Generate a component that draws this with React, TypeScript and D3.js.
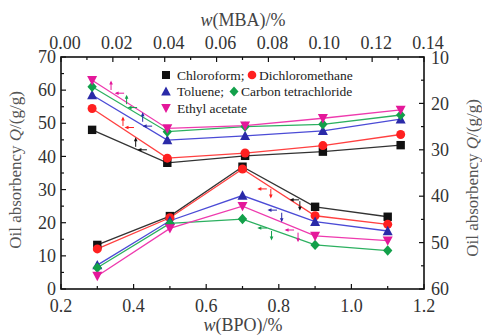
import React from "react";
import * as d3 from "d3";

// ---- data ----
const bpoX = [0.3, 0.5, 0.7, 0.9, 1.1];
const mbaX = [0.012, 0.041, 0.071, 0.101, 0.131];

const seriesNames = ["Chloroform", "Dichloromethane", "Toluene", "Carbon tetrachloride", "Ethyl acetate"];
const seriesColors = ["#111111", "#ff2020", "#2a2aa8", "#12a04a", "#e4189a"];
const lineColors = ["#333333", "#ff4040", "#4b4bd6", "#2cb060", "#ee3aae"];
const seriesShapes = ["square", "circle", "triangle", "diamond", "triangleDown"];

// lower group: oil absorbency vs w(BPO) (left axis)
const bpoChloroform = [13.3, 22.0, 36.9, 24.8, 21.8];
const bpoDichloromethane = [12.1, 21.5, 36.2, 22.1, 19.5];
const bpoToluene = [7.2, 20.6, 28.2, 20.3, 17.5];
const bpoCarbonTet = [6.4, 19.8, 21.1, 13.3, 11.6];
const bpoEthylAcetate = [3.9, 18.3, 25.0, 16.0, 14.6];

// upper group: oil absorbency vs w(MBA) (right axis, reversed)
const mbaChloroform = [25.7, 32.8, 31.3, 30.4, 29.0];
const mbaDichloromethane = [21.1, 31.8, 30.7, 29.1, 26.7];
const mbaToluene = [18.2, 27.9, 27.0, 25.9, 23.4];
const mbaCarbonTet = [16.4, 26.1, 25.0, 24.5, 22.5];
const mbaEthylAcetate = [15.0, 25.4, 24.8, 23.2, 21.4];

// arrow annotations (data coordinates)
const mbaArrowUp = [[0.0288, 28.5], [0.0239, 24.0], [0.0315, 23.1], [0.0253, 19.3], [0.0193, 16.25]];
const mbaArrowSide = [[0.0316, 30.0], [0.0266, 25.2], [0.0336, 24.9], [0.0278, 20.9], [0.0228, 17.8]];
const bpoArrowDown = [[0.858, 25.3], [0.778, 29.0], [0.808, 21.8], [0.78, 16.3], [0.853, 15.8]];
const bpoArrowSide = [[0.845, 26.9], [0.756, 30.2], [0.784, 23.8], [0.756, 18.4], [0.831, 17.8]];

const bpoTicks = [0.2, 0.4, 0.6, 0.8, 1.0, 1.2];
const mbaTicks = [0, 0.02, 0.04, 0.06, 0.08, 0.1, 0.12, 0.14];
const leftTicks = [0, 10, 20, 30, 40, 50, 60, 70];
const rightTicks = [10, 20, 30, 40, 50, 60];

const bpoSeries = [bpoChloroform, bpoDichloromethane, bpoToluene, bpoCarbonTet, bpoEthylAcetate];
const mbaSeries = [mbaChloroform, mbaDichloromethane, mbaToluene, mbaCarbonTet, mbaEthylAcetate];

const W = 482, H = 336;
const L = 61, R = 424, T = 57, B = 289;
const FONT = "Liberation Serif, Times New Roman, DejaVu Serif, serif";

const xBPO = d3.scaleLinear().domain([0.2, 1.2]).range([L, R]);
const xMBA = d3.scaleLinear().domain([0, 0.14]).range([L, R]);
const yLeft = d3.scaleLinear().domain([0, 70]).range([B, T]);
const yRight = d3.scaleLinear().domain([10, 60]).range([T, B]);

function Marker({ shape, x, y, color, s = 4.2 }: any) {
  if (shape === "square")
    return <rect x={x - s} y={y - s} width={2 * s} height={2 * s} fill={color} />;
  if (shape === "circle") return <circle cx={x} cy={y} r={s + 0.3} fill={color} />;
  if (shape === "triangle")
    return <path d={`M${x},${y - s - 1}L${x + s + 0.8},${y + s}L${x - s - 0.8},${y + s}Z`} fill={color} />;
  if (shape === "triangleDown")
    return <path d={`M${x},${y + s + 1}L${x + s + 0.8},${y - s}L${x - s - 0.8},${y - s}Z`} fill={color} />;
  return <path d={`M${x},${y - s - 1}L${x + s + 0.5},${y}L${x},${y + s + 1}L${x - s - 0.5},${y}Z`} fill={color} />;
}

function VArrow({ x, y, up, color }: any) {
  const dir = up ? -1 : 1;
  const tip = y + dir * 4;
  return (
    <g>
      <line x1={x} y1={y - dir * 4} x2={x} y2={tip} stroke={color} strokeWidth={1} />
      <path d={`M${x},${tip + dir * 1.5}L${x - 1.8},${tip - dir * 2.5}L${x + 1.8},${tip - dir * 2.5}Z`} fill={color} />
    </g>
  );
}
function HArrow({ x, y, color }: any) {
  const tip = x - 4;
  return (
    <g>
      <line x1={x + 4} y1={y} x2={tip} y2={y} stroke={color} strokeWidth={1} />
      <path d={`M${tip - 1.5},${y}L${tip + 2.5},${y - 1.8}L${tip + 2.5},${y + 1.8}Z`} fill={color} />
    </g>
  );
}

export default function App() {
  const lineBPO = d3.line<number>().x((_, i) => xBPO(bpoX[i])).y((d) => yLeft(d));
  const lineMBA = d3.line<number>().x((_, i) => xMBA(mbaX[i])).y((d) => yRight(d));

  const minor = (a: number, b: number, step: number) => d3.range(a, b + step / 2, step);

  const legendRows = [
    [{ i: 0, t: "Chloroform;" }, { i: 1, t: "Dichloromethane" }],
    [{ i: 2, t: "Toluene;" }, { i: 3, t: "Carbon tetrachloride" }],
    [{ i: 4, t: "Ethyl acetate" }],
  ];
  const legendX = 166, legendY0 = 75, legendDy = 16.5;
  const secondX = [252, 234];

  return (
    <svg width={W} height={H} style={{ position: "absolute", left: 0, top: 0, background: "#fff", fontFamily: FONT }}>
      <rect width={W} height={H} fill="#fff" />
      {/* ticks */}
      <g stroke="#111" strokeWidth={1.2}>
        {minor(0.2, 1.2, 0.1).map((v, i) => (
          <line key={"b" + i} x1={xBPO(v)} x2={xBPO(v)} y1={B} y2={B - (i % 2 === 0 ? 5 : 3)} />
        ))}
        {minor(0, 0.14, 0.01).map((v, i) => (
          <line key={"t" + i} x1={xMBA(v)} x2={xMBA(v)} y1={T} y2={T + (i % 2 === 0 ? 5 : 3)} />
        ))}
        {minor(0, 70, 5).map((v, i) => (
          <line key={"l" + i} x1={L} x2={L + (i % 2 === 0 ? 5 : 3)} y1={yLeft(v)} y2={yLeft(v)} />
        ))}
        {minor(10, 60, 5).map((v, i) => (
          <line key={"r" + i} x1={R} x2={R - (i % 2 === 0 ? 5 : 3)} y1={yRight(v)} y2={yRight(v)} />
        ))}
      </g>
      <rect x={L} y={T} width={R - L} height={B - T} fill="none" stroke="#111" strokeWidth={1.6} />

      {/* tick labels */}
      <g fontSize={18} fill="#333">
        {bpoTicks.map((v) => (
          <text key={"bl" + v} x={xBPO(v)} y={312} textAnchor="middle">{v.toFixed(1)}</text>
        ))}
        {mbaTicks.map((v) => (
          <text key={"tl" + v} x={xMBA(v) + 4} y={49} textAnchor="middle">{v.toFixed(2)}</text>
        ))}
        {leftTicks.map((v) => (
          <text key={"ll" + v} x={56} y={yLeft(v)} dy="0.34em" textAnchor="end">{v}</text>
        ))}
        {rightTicks.map((v) => (
          <text key={"rl" + v} x={431} y={yRight(v) + (v === 10 ? 1 : 0)} dy="0.34em" textAnchor="start">{v}</text>
        ))}
      </g>

      {/* axis titles */}
      <g fontSize={18} fill="#444">
        <text x={243} y={26} textAnchor="middle">
          <tspan fontStyle="italic">w</tspan>(MBA)/%
        </text>
        <text x={243} y={331} textAnchor="middle">
          <tspan fontStyle="italic">w</tspan>(BPO)/%
        </text>
      </g>
      <g fontSize={17} fill="#555">
        <text transform={`translate(21,${170}) rotate(-90)`} textAnchor="middle">
          Oil absorbency <tspan fontStyle="italic">Q</tspan>/(g/g)
        </text>
        <text transform={`translate(478,${178}) rotate(-90)`} textAnchor="middle">
          Oil absorbency <tspan fontStyle="italic">Q</tspan>/(g/g)
        </text>
      </g>

      {/* lines */}
      {bpoSeries.map((s, k) => (
        <path key={"lb" + k} d={lineBPO(s) || ""} fill="none" stroke={lineColors[k]} strokeWidth={1.3} />
      ))}
      {mbaSeries.map((s, k) => (
        <path key={"lm" + k} d={lineMBA(s) || ""} fill="none" stroke={lineColors[k]} strokeWidth={1.3} />
      ))}
      {/* markers */}
      {bpoSeries.map((s, k) =>
        s.map((v, i) => (
          <Marker key={`mb${k}-${i}`} shape={seriesShapes[k]} x={xBPO(bpoX[i])} y={yLeft(v)} color={seriesColors[k]} />
        ))
      )}
      {mbaSeries.map((s, k) =>
        s.map((v, i) => (
          <Marker key={`mm${k}-${i}`} shape={seriesShapes[k]} x={xMBA(mbaX[i])} y={yRight(v)} color={seriesColors[k]} />
        ))
      )}
      {/* arrows */}
      {mbaArrowUp.map((p, k) => (
        <VArrow key={"au" + k} x={xMBA(p[0])} y={yRight(p[1])} up color={seriesColors[k]} />
      ))}
      {mbaArrowSide.map((p, k) => (
        <HArrow key={"as" + k} x={xMBA(p[0])} y={yRight(p[1])} color={seriesColors[k]} />
      ))}
      {bpoArrowDown.map((p, k) => (
        <VArrow key={"ad" + k} x={xBPO(p[0])} y={yLeft(p[1])} up={false} color={seriesColors[k]} />
      ))}
      {bpoArrowSide.map((p, k) => (
        <HArrow key={"bs" + k} x={xBPO(p[0])} y={yLeft(p[1])} color={seriesColors[k]} />
      ))}

      {/* legend */}
      <g fontSize={13.5} fill="#222">
        {legendRows.map((row, r) => {
          const y = legendY0 + r * legendDy;
          return (
            <g key={"lg" + r}>
              {row.map((e, j) => {
                const mx = j === 0 ? legendX : secondX[r];
                return (
                  <g key={"le" + j}>
                    <Marker shape={seriesShapes[e.i]} x={mx} y={y} color={seriesColors[e.i]} s={4} />
                    <text x={mx + (j === 0 ? 11 : 7)} y={y} dy="0.34em">{e.t}</text>
                  </g>
                );
              })}
            </g>
          );
        })}
      </g>
    </svg>
  );
}
